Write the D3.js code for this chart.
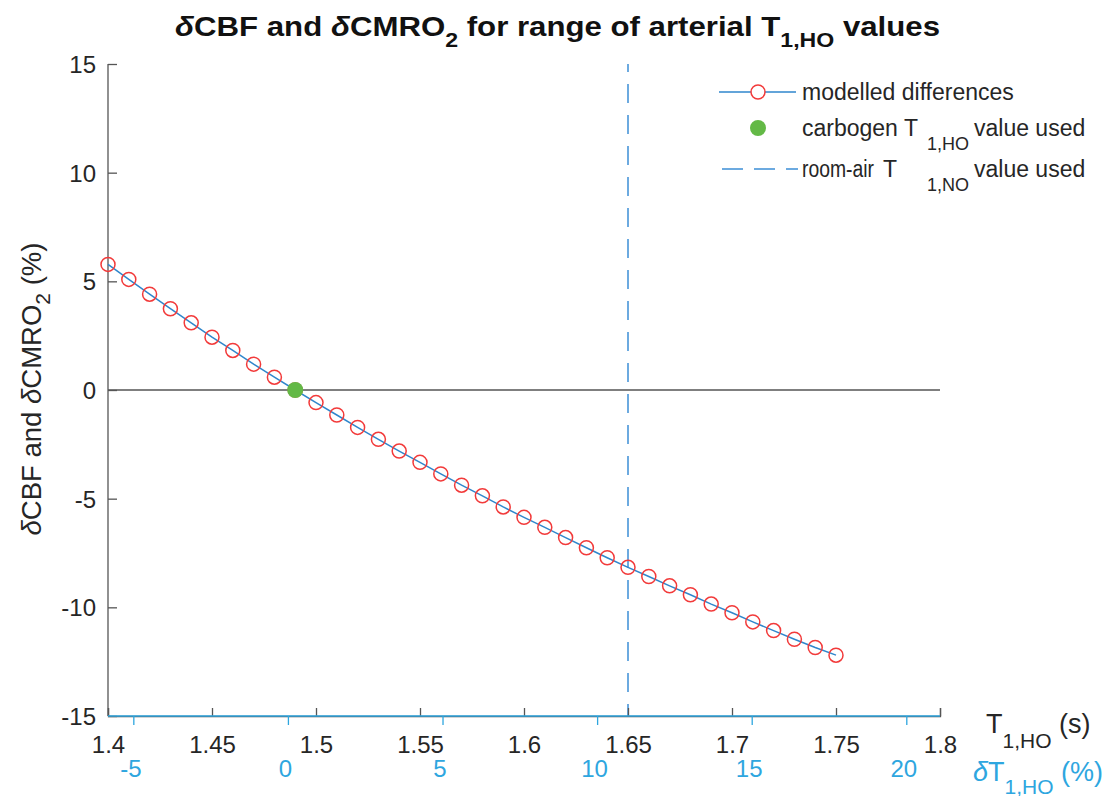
<!DOCTYPE html>
<html>
<head>
<meta charset="utf-8">
<script src="https://cdn.jsdelivr.net/npm/d3@7"></script>
<style>
  body { margin: 0; background: #fff; }
  svg { font-family: "Liberation Sans", Arial, Helvetica, sans-serif; }
</style>
</head>
<body>
<svg id="chart" width="1113" height="796"></svg>
<script>
// arterial T1 values (s) and modelled differences (%)
var t1Values = [1.40, 1.41, 1.42, 1.43, 1.44, 1.45, 1.46, 1.47, 1.48, 1.49,
    1.50, 1.51, 1.52, 1.53, 1.54, 1.55, 1.56, 1.57, 1.58, 1.59,
    1.60, 1.61, 1.62, 1.63, 1.64, 1.65, 1.66, 1.67, 1.68, 1.69,
    1.70, 1.71, 1.72, 1.73, 1.74, 1.75];
var deltaValues = [5.78, 5.09, 4.41, 3.74, 3.09, 2.43, 1.82, 1.19, 0.59, 0,
    -0.58, -1.15, -1.72, -2.27, -2.81, -3.33, -3.86, -4.38, -4.87, -5.38,
    -5.86, -6.32, -6.79, -7.26, -7.72, -8.16, -8.58, -9.01, -9.42, -9.85,
    -10.25, -10.67, -11.07, -11.47, -11.85, -12.20];

var carbogenT1 = 1.49;
var carbogenDelta = 0;
var roomAirT1 = 1.65;
var pctRefT1 = 1.4865;   // reference T1 used for the % axis

var xTicks = [1.4, 1.45, 1.5, 1.55, 1.6, 1.65, 1.7, 1.75, 1.8];
var yTicks = [-15, -10, -5, 0, 5, 10, 15];
var pctTicks = [-5, 0, 5, 10, 15, 20];

var svg = d3.select("#chart");
var plotL = 108, plotR = 940, plotT = 64, plotB = 716;

var x = d3.scaleLinear().domain([1.4, 1.8]).range([plotL, plotR]);
var y = d3.scaleLinear().domain([-15, 15]).range([plotB, plotT]);
var xPct = d3.scaleLinear()
    .domain([(1.4 / pctRefT1 - 1) * 100, (1.8 / pctRefT1 - 1) * 100])
    .range([plotL, plotR]);

var axisGrey = "#555";
var textCol = "#262626";
var blueAxis = "#2ea6df";

// zero line
svg.append("line")
    .attr("x1", plotL).attr("x2", plotR)
    .attr("y1", y(0)).attr("y2", y(0))
    .attr("stroke", axisGrey).attr("stroke-width", 1.3);

// room-air dashed line
svg.append("line")
    .attr("x1", x(roomAirT1)).attr("x2", x(roomAirT1))
    .attr("y1", plotT).attr("y2", plotB)
    .attr("stroke", "#3d8fd6").attr("stroke-width", 1.5)
    .attr("stroke-dasharray", "19,12")
    .attr("stroke-dashoffset", 11);

// y axis
var yAxis = d3.axisLeft(y).tickValues(yTicks).tickSize(-9).tickPadding(12)
    .tickFormat(function(d) { return String(d); });
var gy = svg.append("g").attr("transform", "translate(" + plotL + ",0)").call(yAxis);
gy.select(".domain").attr("stroke", axisGrey).attr("stroke-width", 1.3)
    .attr("d", "M0," + plotT + "V" + plotB);
gy.selectAll(".tick line").attr("stroke", axisGrey).attr("stroke-width", 1.3);
gy.selectAll(".tick text").attr("fill", textCol).style("font-size", "24px").attr("dy", "0.36em");

// x axis (T1), ticks pointing inwards
var xAxis = d3.axisBottom(x).tickValues(xTicks).tickSize(-8).tickPadding(0)
    .tickFormat(d3.format("~g"));
var gx = svg.append("g").attr("transform", "translate(0," + plotB + ")").call(xAxis);
gx.select(".domain").attr("stroke", axisGrey).attr("stroke-width", 1.3);
gx.selectAll(".tick line").attr("stroke", axisGrey).attr("stroke-width", 1.3);
gx.selectAll(".tick text").attr("fill", textCol).style("font-size", "24px")
    .attr("y", 37).attr("dy", 0);

// second x axis (% change), ticks outwards
var pctAxis = d3.axisBottom(xPct).tickValues(pctTicks).tickSize(9).tickPadding(0)
    .tickFormat(function(d) { return String(d); });
var gp = svg.append("g").attr("transform", "translate(0," + plotB + ")").call(pctAxis);
gp.select(".domain").attr("stroke", blueAxis).attr("stroke-width", 1.5)
    .attr("d", "M" + plotL + ",0H" + plotR);
gp.selectAll(".tick line").attr("stroke", blueAxis).attr("stroke-width", 1.3);
gp.selectAll(".tick text").attr("fill", blueAxis).style("font-size", "24px")
    .attr("y", 61).attr("dy", 0).attr("x", -3);

// modelled line + markers
var pts = t1Values.map(function(t, i) { return {t: t, v: deltaValues[i]}; });
var line = d3.line().x(function(d) { return x(d.t); }).y(function(d) { return y(d.v); });

svg.append("path").datum(pts)
    .attr("d", line)
    .attr("fill", "none")
    .attr("stroke", "#2f86cc")
    .attr("stroke-width", 1.5);

svg.selectAll(".dot").data(pts).enter().append("circle")
    .attr("class", "dot")
    .attr("cx", function(d) { return x(d.t); })
    .attr("cy", function(d) { return y(d.v); })
    .attr("r", 7)
    .attr("fill", "none")
    .attr("stroke", "#f23a3a")
    .attr("stroke-width", 1.5);

// carbogen point
svg.append("circle")
    .attr("cx", x(carbogenT1)).attr("cy", y(carbogenDelta))
    .attr("r", 8).attr("fill", "#63b946");

// title
var title = svg.append("text")
    .attr("x", 175).attr("y", 36)
    .attr("fill", "#111")
    .style("font-size", "27px").style("font-weight", "bold")
    .attr("textLength", 765).attr("lengthAdjust", "spacingAndGlyphs");
title.append("tspan").style("font-style", "italic").text("δ");
title.append("tspan").text("CBF and ");
title.append("tspan").style("font-style", "italic").text("δ");
title.append("tspan").text("CMRO");
title.append("tspan").attr("dy", 11).style("font-size", "20px").text("2");
title.append("tspan").attr("dy", -11).text(" for range of arterial T");
title.append("tspan").attr("dy", 11).style("font-size", "20px").text("1,HO");
title.append("tspan").attr("dy", -11).text(" values");

// y label
var ylab = svg.append("text")
    .attr("transform", "translate(41,389) rotate(-90)")
    .attr("text-anchor", "middle")
    .attr("fill", textCol)
    .style("font-size", "27.5px");
ylab.append("tspan").style("font-style", "italic").text("δ");
ylab.append("tspan").text("CBF and ");
ylab.append("tspan").style("font-style", "italic").text("δ");
ylab.append("tspan").text("CMRO");
ylab.append("tspan").attr("dy", 9).style("font-size", "21px").text("2");
ylab.append("tspan").attr("dy", -9).text(" (%)");

// x labels
var xlab = svg.append("text").attr("x", 986).attr("y", 733)
    .attr("fill", textCol).style("font-size", "27px");
xlab.append("tspan").text("T");
xlab.append("tspan").attr("dy", 15).style("font-size", "21px").text("1,HO");
xlab.append("tspan").attr("dy", -15).text(" (s)");

var plab = svg.append("text").attr("x", 973).attr("y", 781)
    .attr("fill", blueAxis).style("font-size", "27px");
plab.append("tspan").style("font-style", "italic").text("δ");
plab.append("tspan").text("T");
plab.append("tspan").attr("dy", 13).style("font-size", "21px").text("1,HO");
plab.append("tspan").attr("dy", -13).text(" (%)");

// legend
var leg = svg.append("g");
leg.append("line").attr("x1", 719).attr("x2", 796).attr("y1", 92).attr("y2", 92)
    .attr("stroke", "#2f86cc").attr("stroke-width", 1.5);
leg.append("circle").attr("cx", 758).attr("cy", 92).attr("r", 7)
    .attr("fill", "#fff").attr("stroke", "#f23a3a").attr("stroke-width", 1.5);
leg.append("text").attr("x", 802).attr("y", 100).attr("fill", textCol)
    .style("font-size", "23px").text("modelled differences");

leg.append("circle").attr("cx", 758).attr("cy", 128).attr("r", 8).attr("fill", "#63b946");
leg.append("text").attr("x", 802).attr("y", 136).attr("fill", textCol)
    .style("font-size", "23px").text("carbogen T");
leg.append("text").attr("x", 927).attr("y", 150).attr("fill", textCol)
    .style("font-size", "18px").text("1,HO");
leg.append("text").attr("x", 974).attr("y", 136).attr("fill", textCol)
    .style("font-size", "23px").text("value used");

leg.append("line").attr("x1", 722).attr("x2", 798).attr("y1", 169).attr("y2", 169)
    .attr("stroke", "#3d8fd6").attr("stroke-width", 1.5)
    .attr("stroke-dasharray", "21,11");
leg.append("text").attr("x", 802).attr("y", 177).attr("fill", textCol)
    .style("font-size", "23px")
    .attr("textLength", 72).attr("lengthAdjust", "spacingAndGlyphs")
    .text("room-air");
leg.append("text").attr("x", 883).attr("y", 177).attr("fill", textCol)
    .style("font-size", "23px").text("T");
leg.append("text").attr("x", 927).attr("y", 191).attr("fill", textCol)
    .style("font-size", "18px").text("1,NO");
leg.append("text").attr("x", 974).attr("y", 177).attr("fill", textCol)
    .style("font-size", "23px").text("value used");
</script>
</body>
</html>
